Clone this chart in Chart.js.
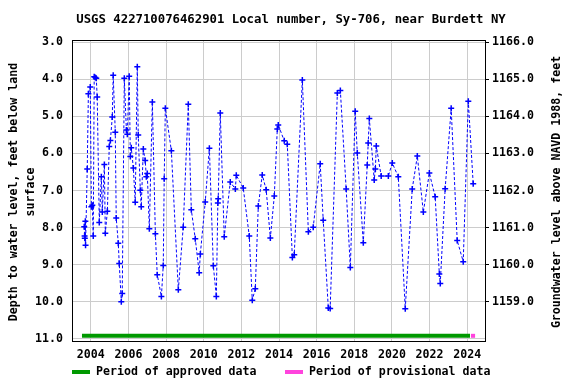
<!DOCTYPE html>
<html>
<head>
<meta charset="utf-8">
<script src="https://cdn.jsdelivr.net/npm/chart.js@4/dist/chart.umd.min.js"></script>
<style>
    html, body { margin: 0; padding: 0; background: #fff; }
</style>
</head>
<body>
<canvas id="chart" width="576" height="384"></canvas>
<script>
// Werte (Dezimaljahr, Tiefe in feet unter Gelände)
const years = [
    2003.65, 2003.67, 2003.68, 2003.71, 2003.72, 2003.81, 2003.87, 2003.97, 2004.03, 2004.08,
    2004.13, 2004.18, 2004.24, 2004.29, 2004.34, 2004.45, 2004.56, 2004.61, 2004.72, 2004.77,
    2004.88, 2004.98, 2005.04, 2005.14, 2005.19, 2005.30, 2005.35, 2005.46, 2005.51, 2005.62,
    2005.67, 2005.78, 2005.89, 2005.94, 2006.04, 2006.10, 2006.15, 2006.26, 2006.36, 2006.47,
    2006.52, 2006.63, 2006.68, 2006.79, 2006.89, 2006.95, 2007.00, 2007.11, 2007.27, 2007.43,
    2007.53, 2007.75, 2007.85, 2007.90, 2007.96, 2008.28, 2008.65, 2008.91, 2009.18, 2009.34,
    2009.55, 2009.76, 2009.82, 2010.08, 2010.30, 2010.51, 2010.67, 2010.75, 2010.77, 2010.88,
    2011.09, 2011.41, 2011.68, 2011.73, 2012.10, 2012.42, 2012.58, 2012.74, 2012.90, 2013.11,
    2013.32, 2013.54, 2013.75, 2013.91, 2013.96, 2014.28, 2014.44, 2014.71, 2014.81, 2015.24,
    2015.56, 2015.82, 2016.19, 2016.35, 2016.62, 2016.72, 2017.10, 2017.26, 2017.57, 2017.79,
    2018.05, 2018.16, 2018.48, 2018.69, 2018.74, 2018.80, 2019.06, 2019.12, 2019.17, 2019.43,
    2019.81, 2020.02, 2020.34, 2020.71, 2021.08, 2021.35, 2021.67, 2021.99, 2022.30, 2022.52,
    2022.57, 2022.83, 2023.15, 2023.47, 2023.79, 2024.06, 2024.32
];
const depths = [
    7.98, 8.23, 8.29, 7.83, 8.48, 6.42, 4.39, 4.21, 7.44, 7.40,
    8.23, 3.93, 3.95, 3.97, 4.48, 7.86, 6.63, 7.58, 6.30, 8.15,
    7.56, 5.81, 5.65, 5.02, 3.89, 5.43, 7.74, 8.42, 8.97, 10.00,
    9.78, 3.97, 5.37, 5.48, 3.92, 6.08, 5.85, 6.39, 7.32, 3.66,
    5.50, 6.99, 7.44, 5.88, 6.19, 6.63, 6.54, 8.03, 4.61, 8.17,
    9.27, 9.86, 9.02, 6.68, 4.78, 5.93, 9.68, 7.99, 4.67, 7.52,
    8.30, 9.22, 8.71, 7.31, 5.86, 9.03, 9.86, 7.34, 7.22, 4.91,
    8.25, 6.77, 6.96, 6.59, 6.93, 8.23, 9.96, 9.65, 7.42, 6.58,
    6.98, 8.28, 7.15, 5.34, 5.23, 5.66, 5.75, 8.81, 8.73, 4.02,
    8.11, 7.99, 6.28, 7.80, 10.17, 10.18, 4.37, 4.30, 6.96, 9.08,
    4.86, 5.99, 8.41, 6.31, 5.72, 5.06, 6.72, 6.42, 5.80, 6.61,
    6.61, 6.26, 6.63, 10.19, 6.96, 6.07, 7.58, 6.53, 7.17, 9.25,
    9.51, 6.95, 4.78, 8.35, 8.92, 4.59, 6.82
];

const yearTicks = [2004, 2006, 2008, 2010, 2012, 2014, 2016, 2018, 2020, 2022, 2024];
const depthTicks = [3, 4, 5, 6, 7, 8, 9, 10, 11];
const elevationTicks = [1159, 1160, 1161, 1162, 1163, 1164, 1165, 1166];
const landSurface = 1169;   // Höhe = landSurface - Tiefe

const approvedPeriod = [2003.53, 2024.15];
const provisionalPeriod = [2024.2, 2024.42];
const periodDepth = 10.92;

const FONT = 'bold 11.6px "DejaVu Sans Mono"';
const TITLE_FONT = 'bold 12.3px "DejaVu Sans Mono"';
const tickFont = { family: 'DejaVu Sans Mono', size: 11.6, weight: 'bold' };

const points = years.map((x, i) => ({ x: x, y: depths[i] }));

// Titel, Achsentitel, Rahmen und Legende selbst zeichnen
const decorations = {
    id: 'decorations',
    afterDraw(chart) {
        const ctx = chart.ctx;
        const a = chart.chartArea;
        ctx.save();
        ctx.strokeStyle = '#000';
        ctx.lineWidth = 1;
        ctx.strokeRect(a.left + 0.5, a.top + 0.5, a.right - a.left - 1, a.bottom - a.top);

        ctx.fillStyle = '#000';
        ctx.textBaseline = 'middle';
        ctx.textAlign = 'center';
        ctx.font = TITLE_FONT;
        ctx.fillText('USGS 422710076462901 Local number, Sy-706, near Burdett NY', 291, 20);

        ctx.font = FONT;
        const midY = 192;
        ctx.save();
        ctx.translate(14, midY);
        ctx.rotate(-Math.PI / 2);
        ctx.fillText('Depth to water level, feet below land', 0, 0);
        ctx.restore();
        ctx.save();
        ctx.translate(31, midY);
        ctx.rotate(-Math.PI / 2);
        ctx.fillText('surface', 0, 0);
        ctx.restore();
        ctx.save();
        ctx.translate(557, midY);
        ctx.rotate(-Math.PI / 2);
        ctx.fillText('Groundwater level above NAVD 1988, feet', 0, 0);
        ctx.restore();

        // Legende
        ctx.textAlign = 'left';
        ctx.fillStyle = '#009900';
        ctx.fillRect(72, 370, 18, 4);
        ctx.fillStyle = '#000';
        ctx.fillText('Period of approved data', 96, 372);
        ctx.fillStyle = '#ff44dd';
        ctx.fillRect(285, 370, 18, 4);
        ctx.fillStyle = '#000';
        ctx.fillText('Period of provisional data', 309, 372);
        ctx.restore();
    }
};

new Chart(document.getElementById('chart'), {
    type: 'line',
    data: {
        datasets: [{
            label: 'Period of approved data',
            data: approvedPeriod.map(x => ({ x: x, y: periodDepth })),
            borderColor: '#009900',
            borderWidth: 4,
            pointRadius: 0
        }, {
            label: 'Period of provisional data',
            data: provisionalPeriod.map(x => ({ x: x, y: periodDepth })),
            borderColor: '#ff44dd',
            borderWidth: 4,
            pointRadius: 0
        }, {
            label: 'Depth to water level',
            data: points,
            borderColor: '#0000ff',
            borderWidth: 1,
            borderDash: [3, 2],
            tension: 0,
            pointStyle: 'cross',
            pointRadius: 3,
            pointBorderWidth: 1.5,
            pointBorderColor: '#0000ff'
        }]
    },
    options: {
        responsive: false,
        animation: false,
        layout: { padding: { top: 40, left: 0, right: 0, bottom: 0 } },
        plugins: {
            legend: { display: false },
            title: { display: false },
            tooltip: { enabled: false }
        },
        scales: {
            x: {
                type: 'linear',
                min: 2003,
                max: 2025,
                afterBuildTicks: s => { s.ticks = yearTicks.map(v => ({ value: v })); },
                afterFit: s => { s.height = 43; },
                grid: { color: '#cccccc', drawTicks: false },
                border: { display: false },
                ticks: {
                    color: '#000',
                    font: tickFont,
                    padding: 7,
                    maxRotation: 0,
                    callback: v => String(v)
                }
            },
            y: {
                type: 'linear',
                position: 'left',
                reverse: true,
                min: 2.94,
                max: 11.06,
                afterBuildTicks: s => { s.ticks = depthTicks.map(v => ({ value: v })); },
                afterFit: s => { s.width = 72; },
                grid: { color: '#cccccc', drawTicks: false },
                border: { display: false },
                ticks: {
                    color: '#000',
                    font: tickFont,
                    padding: 9,
                    callback: v => v.toFixed(1)
                }
            },
            y2: {
                type: 'linear',
                position: 'right',
                min: landSurface - 11.06,
                max: landSurface - 2.94,
                afterBuildTicks: s => { s.ticks = elevationTicks.map(v => ({ value: v })); },
                afterFit: s => { s.width = 90; },
                grid: { drawOnChartArea: false, drawTicks: true, tickLength: 3, color: '#000' },
                border: { display: false },
                ticks: {
                    color: '#000',
                    font: tickFont,
                    padding: 3,
                    callback: v => v.toFixed(1)
                }
            }
        }
    },
    plugins: [decorations]
});
</script>
</body>
</html>
